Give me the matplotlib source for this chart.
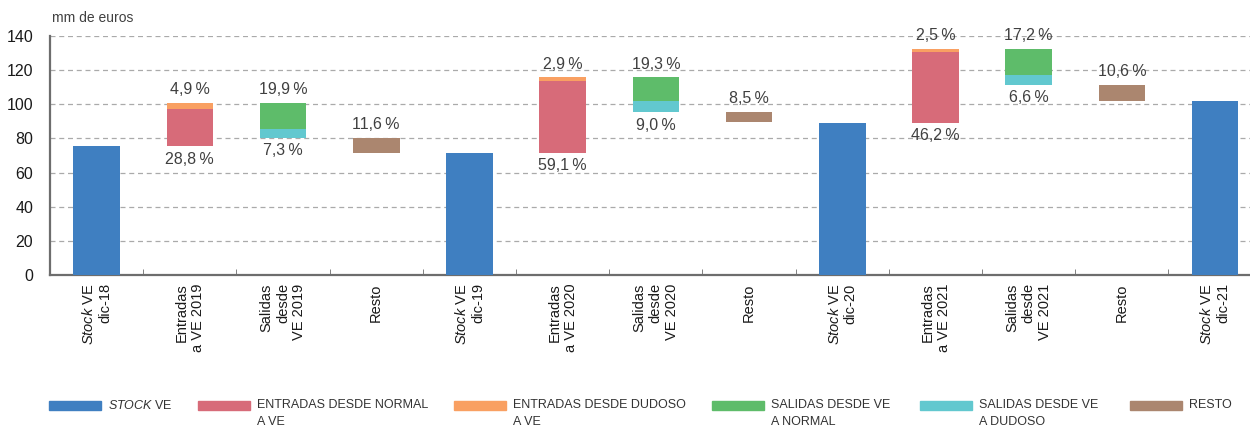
import numpy as np
import matplotlib.pyplot as plt
from matplotlib.patches import Rectangle

plt.rcParams['font.family'] = ['Liberation Sans', 'DejaVu Sans']
plt.rcParams['mathtext.fontset'] = 'custom'
plt.rcParams['mathtext.rm'] = 'Liberation Sans'
plt.rcParams['mathtext.it'] = 'Liberation Sans:italic'

# datos (mm de euros)
stock = [75.4, 71.5, 89.2, 102.0]                  # dic-18 .. dic-21
entradas_normal = [21.7, 42.1, 41.2]
entradas_dudoso = [3.7, 2.1, 2.2]
salidas_normal = [15.0, 13.8, 15.3]
salidas_dudoso = [5.5, 6.4, 5.9]
resto = [8.75, 6.1, 9.5]

pct_ent_normal = ["28,8", "59,1", "46,2"]
pct_ent_dudoso = ["4,9", "2,9", "2,5"]
pct_sal_normal = ["19,9", "19,3", "17,2"]
pct_sal_dudoso = ["7,3", "9,0", "6,6"]
pct_resto = ["11,6", "8,5", "10,6"]

etiquetas = [
    "$\\it{Stock}$ VE\ndic-18", "Entradas\na VE 2019", "Salidas\ndesde\nVE 2019", "Resto",
    "$\\it{Stock}$ VE\ndic-19", "Entradas\na VE 2020", "Salidas\ndesde\nVE 2020", "Resto",
    "$\\it{Stock}$ VE\ndic-20", "Entradas\na VE 2021", "Salidas\ndesde\nVE 2021", "Resto",
    "$\\it{Stock}$ VE\ndic-21",
]

c_stock = "#3F7FC1"
c_ent_n = "#D76B79"
c_ent_d = "#F9A062"
c_sal_n = "#5EBC6A"
c_sal_d = "#62C8CF"
c_resto = "#AB866F"
gris = "#404040"

fig = plt.figure(figsize=(12.5, 4.32), dpi=100)
ax = fig.add_axes([50 / 1250, 1 - 275 / 432, 1 - 50 / 1250, (275 - 36) / 432])

w = 0.5
x_stock = np.array([0, 4, 8, 12])
ax.bar(x_stock, stock, width=w, color=c_stock, zorder=3)

def etiqueta(x, y, txt, arriba):
    ax.annotate(txt + "\u2009%", (x, y), xytext=(0, 4 if arriba else -4),
                textcoords="offset points", ha="center",
                va="bottom" if arriba else "top", fontsize=11.5, color=gris)

for i in range(3):
    base = stock[i]
    xe, xs, xr = 4 * i + 1, 4 * i + 2, 4 * i + 3
    # entradas
    ax.bar(xe, entradas_normal[i], bottom=base, width=w, color=c_ent_n, zorder=3)
    ax.bar(xe, entradas_dudoso[i], bottom=base + entradas_normal[i], width=w, color=c_ent_d, zorder=3)
    tope = base + entradas_normal[i] + entradas_dudoso[i]
    etiqueta(xe, tope, pct_ent_dudoso[i], True)
    etiqueta(xe, base, pct_ent_normal[i], False)
    # salidas
    ax.bar(xs, salidas_normal[i], bottom=tope - salidas_normal[i], width=w, color=c_sal_n, zorder=3)
    fondo = tope - salidas_normal[i] - salidas_dudoso[i]
    ax.bar(xs, salidas_dudoso[i], bottom=fondo, width=w, color=c_sal_d, zorder=3)
    etiqueta(xs, tope, pct_sal_normal[i], True)
    etiqueta(xs, fondo, pct_sal_dudoso[i], False)
    # resto
    ax.bar(xr, resto[i], bottom=fondo - resto[i], width=w, color=c_resto, zorder=3)
    etiqueta(xr, fondo, pct_resto[i], True)

ax.set_ylim(0, 140)
ax.set_yticks(range(0, 141, 20))
ax.set_xlim(-0.5, 12.375)
ax.set_xticks(range(13))
ax.set_xticklabels(etiquetas, rotation=90, va="top", ha="center",
                   multialignment="right", fontsize=10.5, color="#1a1a1a")
ax.set_xticks(np.arange(0.5, 12, 1), minor=True)
ax.tick_params(axis="x", which="major", length=0, pad=6)
ax.tick_params(axis="x", which="minor", length=4, direction="in", color="#6d6d6d")
ax.tick_params(axis="y", length=0, pad=12, labelsize=11.5, labelcolor="#1a1a1a")
ax.grid(axis="y", linestyle=(0, (4, 3)), color="#aaaaaa", linewidth=0.9, zorder=0)
for s in ["top", "right"]:
    ax.spines[s].set_visible(False)
for s in ["left", "bottom"]:
    ax.spines[s].set_color("#6d6d6d")
    ax.spines[s].set_linewidth(1.6)

fig.text(52 / 1250, 1 - 18 / 432, "mm de euros", fontsize=10, color=gris, va="center")

# leyenda
leyenda = [
    (c_stock, "$\\it{STOCK}$ VE", 49),
    (c_ent_n, "ENTRADAS DESDE NORMAL\nA VE", 198),
    (c_ent_d, "ENTRADAS DESDE DUDOSO\nA VE", 454),
    (c_sal_n, "SALIDAS DESDE VE\nA NORMAL", 712),
    (c_sal_d, "SALIDAS DESDE VE\nA DUDOSO", 920),
    (c_resto, "RESTO", 1130),
]
for color, txt, px in leyenda:
    fig.add_artist(Rectangle((px / 1250, 1 - 410 / 432), 52 / 1250, 9 / 432,
                             transform=fig.transFigure, color=color))
    fig.text((px + 59) / 1250, 1 - 399 / 432, txt, fontsize=9, color="#333333",
             va="top", linespacing=1.55)

fig.savefig("out.png", dpi=100)
